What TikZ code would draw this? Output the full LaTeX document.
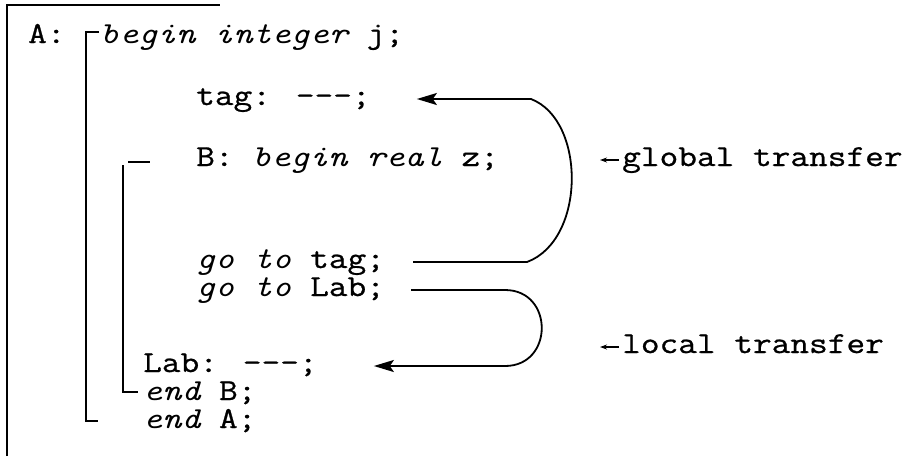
\documentclass[tikz,border=0pt]{standalone}
\usepackage{fontspec}
\usetikzlibrary{arrows.meta}

\newfontfamily\codefont[Ligatures=TeXOff,FakeStretch=1.19,
	UprightFeatures={FakeBold=0.8}]{Latin Modern Mono}
\newcommand{\kw}[1]{{\itshape #1}}

\begin{document}
\begin{tikzpicture}[x=1pt,y=-1pt,
	code/.style={anchor=base west,inner sep=0pt,text height=16pt,text depth=4pt,
		font=\codefont\fontsize{30.5}{32}\selectfont},
	rule/.style={line width=1.4pt},
	jump/.style={line width=1.8pt,-{Stealth[length=20pt,width=12pt,inset=4pt]}},
	pointer/.style={line width=1.2pt,-{Stealth[length=7pt,width=5pt]}}]
	\useasboundingbox (0,0) rectangle (917,456);

	\node[code] (A) at (28,43) {A:};
	\node[code] (beginA) at (100,43) {\kw{begin integer} j;};
	\node[code] (tag) at (196,105) {tag: ---;};
	\node[code] (beginB) at (196,166) {B: \kw{begin real} z;};
	\node[code] (gototag) at (196,268) {\kw{go to} tag;};
	\node[code] (gotolab) at (196,296) {\kw{go to} Lab;};
	\node[code] (lab) at (143,372) {Lab: ---;};
	\node[code] (endB) at (143,400) {\kw{end} B;};
	\node[code] (endA) at (143,428) {\kw{end} A;};
	\node[code] (global) at (622,166) {global transfer};
	\node[code] (local) at (622,353) {local transfer};

	\coordinate (gturn) at (527,0);
	\coordinate (lturn) at (505,0);

	% block brackets
	\draw[rule] (7,456) -- (7,5) -- (220,5);
	\draw[rule] (99,32) -- (86,32) -- (86,421) -- (98,421);
	\draw[rule] (128,162) -- (150,162);
	\draw[rule] (123,165) -- (123,392) -- (138,392);

	% transfers
	\draw[jump] ([xshift=28pt]gototag.east) -- (gototag.east -| gturn)
		.. controls +(59,-22) and +(55,21) .. ([xshift=4pt]tag.east -| gturn) -- ([xshift=46pt]tag.east);
	\draw[jump] ([xshift=26pt]gotolab.east) -- (gotolab.east -| lturn)
		.. controls +(49,0) and +(49,0) .. (lab.east -| lturn) -- ([xshift=56pt]lab.east);

	\draw[pointer] ([xshift=-3pt]global.west) -- ++(-19,0);
	\draw[pointer] ([xshift=-3pt]local.west) -- ++(-19,0);
\end{tikzpicture}
\end{document}
